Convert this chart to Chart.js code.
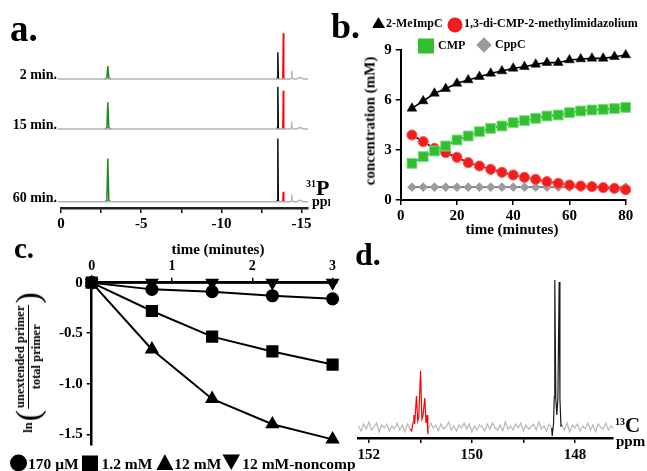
<!DOCTYPE html>
<html><head><meta charset="utf-8">
<script src="https://cdn.jsdelivr.net/npm/chart.js@4.4.1/dist/chart.umd.min.js"></script>
<style>
body{margin:0;background:#fff}
#page{position:relative;width:647px;height:471px;overflow:hidden;background:#fff;
  font-family:'Liberation Serif','Times New Roman',serif;font-weight:bold;color:#000}
canvas{position:absolute}
.t{position:absolute;white-space:nowrap;line-height:1}
.l{transform:translateY(-50%)}
.r{transform:translate(-100%,-50%)}
.c{transform:translate(-50%,-50%)}
.mk{position:absolute;transform:translate(-50%,-50%)}
.up{clip-path:polygon(50% 0,100% 100%,0 100%)}
.dn{clip-path:polygon(0 0,100% 0,50% 100%)}
.leg{display:flex;align-items:center}
.leg i{display:inline-block;background:#000;flex:none}
</style></head><body>
<div id="page">
  <div style="position:absolute;left:0;top:0;width:330px;height:235px;overflow:hidden">
    <canvas id="chartA" width="330" height="235" style="left:0;top:0"></canvas>
    <div class="t l" style="left:10px;top:28px;font-size:37px">a.</div>
    <div class="t r" style="left:57px;top:75px;font-size:14px">2 min.</div>
    <div class="t r" style="left:57px;top:125px;font-size:14px">15 min.</div>
    <div class="t r" style="left:57px;top:198px;font-size:14px">60 min.</div>
    <div class="t l" style="left:306px;top:188px;font-size:22px"><span style="font-size:10px;position:relative;top:-8px">31</span>P</div>
    <div class="t l" style="left:312px;top:202px;font-size:14px">ppm</div>
  </div>
  <canvas id="chartB" width="317" height="240" style="left:330px;top:0"></canvas>
  <canvas id="chartC" width="350" height="231" style="left:0;top:240px"></canvas>
  <canvas id="chartD" width="307" height="231" style="left:340px;top:240px"></canvas>

  <!-- panel b texts -->
  <div class="t l" style="left:331px;top:26px;font-size:36px">b.</div>
  <div class="mk up" style="left:378.5px;top:22.5px;width:13px;height:11px;background:#000"></div>
  <div class="t l" style="left:386px;top:23px;font-size:12px">2-MeImpC</div>
  <div class="mk" style="left:455px;top:24.5px;width:15px;height:15px;border-radius:50%;background:#f21d1d"></div>
  <div class="t l" style="left:464px;top:23px;font-size:12px">1,3-di-CMP-2-methylimidazolium</div>
  <div class="mk" style="left:426px;top:45.5px;width:16px;height:15px;background:#2fbf2f"></div>
  <div class="t l" style="left:438px;top:45px;font-size:12px">CMP</div>
  <div class="mk" style="left:483.5px;top:45px;width:11px;height:11px;background:#9b9b9b;transform:translate(-50%,-50%) rotate(45deg)"></div>
  <div class="t l" style="left:495px;top:44px;font-size:12px">CppC</div>
  <div class="t c" style="left:370px;top:121px;font-size:15px;transform:translate(-50%,-50%) rotate(-90deg)">concentration (mM)</div>
  <div class="t c" style="left:512px;top:229px;font-size:15px">time (minutes)</div>

  <!-- panel c texts -->
  <div class="t l" style="left:14px;top:248px;font-size:29px">c.</div>
  <div class="t c" style="left:218px;top:249px;font-size:15px">time (minutes)</div>
  <div class="t c" style="left:28px;top:362px;font-size:12.5px;transform:translate(-50%,-50%) rotate(-90deg);display:flex;align-items:center">
    <span>ln</span>
    <span style="font-size:34px;font-weight:normal;margin:0 1px">(</span>
    <span style="display:inline-flex;flex-direction:column;align-items:center">
      <span style="border-bottom:1.5px solid #000;padding:0 1px 1px">unextended primer</span>
      <span style="padding-top:1px">total primer</span>
    </span>
    <span style="font-size:34px;font-weight:normal;margin:0 1px">)</span>
  </div>
  <div class="t l leg" style="left:10px;top:463px;font-size:15.5px">
    <i style="width:17px;height:17px;border-radius:50%;margin-right:1px"></i><span>170 μM</span>
    <i style="width:16px;height:16px;margin:0 4px 0 3px"></i><span>1.2 mM</span>
    <i class="up" style="width:17px;height:16px;margin:-2px 1px 0 4px"></i><span>12 mM</span>
    <i class="dn" style="width:18px;height:16px;margin:-2px 2px 0 1px"></i><span>12 mM-noncomp</span>
  </div>

  <!-- panel d texts -->
  <div class="t l" style="left:355px;top:254px;font-size:32px">d.</div>
  <div class="t l" style="left:615px;top:425px;font-size:21px"><span style="font-size:10px;position:relative;top:-7px">13</span>C</div>
  <div class="t l" style="left:616px;top:441px;font-size:15px">ppm</div>
</div>
<script>
// ---- panel a: 31P spectra ----
const aTraces   = ['2 min.', '15 min.', '60 min.'];
const aOffsets  = [122.7, 72.7, 0];
const aGreenPpm = -2.92, aBlackPpm = -13.52, aRedPpm = -13.86, aGrayPpm = -14.38, aTinyPpm = -14.9;
const aGreenH   = [13, 26.7, 43.3];
const aBlackH   = [26.7, 42.3, 63.3];
const aRedH     = [45.7, 38.3, 10];
const aGrayH    = [8.3, 7.3, 7.3];

// ---- panel b: concentrations ----
const bTime   = [4, 8, 12, 16, 20, 24, 28, 32, 36, 40, 44, 48, 52, 56, 60, 64, 68, 72, 76, 80];
const bMeImpC = [5.5, 5.94, 6.4, 6.68, 7.0, 7.2, 7.4, 7.6, 7.74, 7.9, 8.0, 8.14, 8.24, 8.24, 8.4, 8.46, 8.5, 8.5, 8.6, 8.7];
const bDiCMP  = [3.9, 3.5, 3.1, 2.84, 2.56, 2.24, 2.04, 1.84, 1.66, 1.5, 1.36, 1.24, 1.1, 1.0, 0.9, 0.84, 0.8, 0.74, 0.7, 0.62];
const bCMP    = [2.2, 2.6, 2.94, 3.24, 3.6, 3.84, 4.1, 4.3, 4.44, 4.64, 4.76, 4.9, 5.04, 5.1, 5.24, 5.34, 5.4, 5.44, 5.48, 5.56];
const bCppC   = [0.77, 0.77, 0.77, 0.77, 0.77, 0.77, 0.77, 0.77, 0.77, 0.77, 0.77, 0.77, 0.77, 0.77, 0.77, 0.77, 0.77, 0.77, 0.77, 0.77];

// ---- panel c: primer extension ----
const cTime     = [0, 0.75, 1.5, 2.25, 3];
const c170uM    = [0, -0.066, -0.089, -0.129, -0.16];
const c1_2mM    = [0, -0.28, -0.534, -0.68, -0.81];
const c12mM     = [0, -0.66, -1.15, -1.40, -1.55];
const cNoncomp  = [0, 0, 0, 0, 0];

// ---- panel d: 13C spectrum ----
const dStart = 152.2, dStep = 0.05;
const dNoise = [
  1, -4, 3, -2, 5, -3, 0, 4, -5, 2,
  -1, 3, -4, 1, -2, 4, -3, 2, -5, 3,
  -2, null, null, null, null, null, null, -3, 4, -1,
  2, -4, 3, -2, 0, 5, -3, 1, -4, 2,
  -1, 4, -2, 3, -5, 1, -3, 2, 0, -4,
  3, -2, 4, -1, -3, 2, -4, 5, -2, 1,
  -3, 3, -1, 4, -4, 2, -2, 0, 3, -3,
  5, -2, 1, -4, 3, -1, null, null, null, 2,
  -3, 4, -5, 2, -1, 3, -4, 1, -2, 4,
  -3, 2, -5, 3, 0, -2, 4, -3, 1, -1
];
const dRedPeak = [[151.17, -4], [151.14, 5], [151.125, 12], [151.11, 3], [151.075, 31], [151.05, 6], [151.03, 10],
  [150.996, 56], [150.97, 8], [150.95, 11], [150.913, 29], [150.89, 4], [150.868, 12], [150.855, -7]];
const dBlackPeak = [[148.44, -9], [148.415, 3], [148.40, 30], [148.39, 147], [148.37, 28], [148.35, 12],
  [148.33, 28], [148.305, 145], [148.29, 28], [148.27, 1]];

const FONT = 'Liberation Serif';
const tickFont = { family: FONT, weight: 'bold', size: 15 };
const baseOpts = {
  responsive: false, animation: false, events: [],
  plugins: { legend: { display: false }, tooltip: { enabled: false } },
  elements: { line: { tension: 0 } }
};
function axis(extra) {
  return Object.assign({
    type: 'linear',
    grid: { drawOnChartArea: false, color: '#000', lineWidth: 1.5, tickLength: 5 },
    border: { color: '#000', width: 2 }
  }, extra);
}

// PANEL A
function spike(p, h, off, foot, half) {
  return [{ x: p + foot, y: off }, { x: p + half, y: off + 1 }, { x: p, y: off + h },
          { x: p - half, y: off + 1 }, { x: p - foot, y: off }];
}
const aSets = [];
aTraces.forEach((name, i) => {
  const off = aOffsets[i];
  aSets.push({ data: [{ x: 0.2, y: off }, ...spike(aGrayPpm, aGrayH[i], off, 0.09, 0.03),
                      ...spike(aTinyPpm, 1.5, off, 0.2, 0.08), { x: -15.4, y: off }],
               borderColor: '#b4b4b4', borderWidth: 1.4 });
  aSets.push({ data: spike(aGreenPpm, aGreenH[i], off, 0.2, 0.06), borderColor: '#1f8a1f', borderWidth: 1.5 });
  aSets.push({ data: spike(aBlackPpm, aBlackH[i], off, 0.1, 0.03), borderColor: '#000', borderWidth: 1.4 });
  aSets.push({ data: spike(aRedPpm, aRedH[i], off, 0.1, 0.03), borderColor: '#ff0000', borderWidth: 1.4 });
});
aSets.forEach(d => { d.pointRadius = 0; d.clip = false; d.fill = false; });

new Chart(document.getElementById('chartA'), {
  type: 'line',
  data: { datasets: aSets },
  options: Object.assign({}, baseOpts, {
    layout: { padding: { left: 61, right: 22, top: 28, bottom: 0 } },
    scales: {
      x: axis({ min: -15.4, max: 0, reverse: true,
        border: { color: '#222', width: 2.5 },
        ticks: { stepSize: 2.5, includeBounds: false, font: tickFont, color: '#000', padding: 2, maxRotation: 0, autoSkip: false,
                 callback: v => (v % 5 === 0 ? String(v) : '') },
        afterFit: s => { s.height = 27; } }),
      y: { type: 'linear', display: false, min: -6.3, max: 173.7 }
    }
  })
});

// PANEL B
const bPts = arr => arr.map((v, i) => ({ x: bTime[i], y: v }));
new Chart(document.getElementById('chartB'), {
  type: 'line',
  data: {
    datasets: [
      { data: bPts(bMeImpC), borderColor: '#000', pointStyle: 'triangle', pointRadius: 5.6,
        pointBackgroundColor: '#000', pointBorderColor: '#000', pointBorderWidth: 0.5 },
      { data: bPts(bCMP), borderColor: '#000', pointStyle: 'rect', pointRadius: 7,
        pointBackgroundColor: '#2fbf2f', pointBorderColor: '#7fdc7f', pointBorderWidth: 1 },
      { data: bPts(bDiCMP), borderColor: '#000', pointStyle: 'circle', pointRadius: 5.1,
        pointBackgroundColor: '#f21d1d', pointBorderColor: '#ff5a5a', pointBorderWidth: 1 },
      { data: bPts(bCppC), borderColor: '#6e6e6e', pointStyle: 'rectRot', pointRadius: 4.3,
        pointBackgroundColor: '#9b9b9b', pointBorderColor: '#9b9b9b', pointBorderWidth: 1 }
    ].map(d => Object.assign(d, { borderWidth: 1.6, clip: false, fill: false }))
  },
  options: Object.assign({}, baseOpts, {
    layout: { padding: { left: 0, right: 21.3, top: 50, bottom: 0 } },
    scales: {
      x: axis({ min: 0, max: 80,
        ticks: { stepSize: 20, font: tickFont, color: '#000', padding: 2, maxRotation: 0, autoSkip: false },
        afterFit: s => { s.height = 40; } }),
      y: axis({ min: 0, max: 9,
        ticks: { stepSize: 3, font: tickFont, color: '#000', padding: 4, autoSkip: false },
        afterFit: s => { s.width = 70.7; } })
    }
  })
});

// PANEL C
const cPts = arr => arr.map((v, i) => ({ x: cTime[i], y: v }));
new Chart(document.getElementById('chartC'), {
  type: 'line',
  data: {
    datasets: [
      { data: cPts(cNoncomp), pointStyle: 'triangle', rotation: 180, pointRadius: 6 },
      { data: cPts(c170uM), pointStyle: 'circle', pointRadius: 5.6 },
      { data: cPts(c1_2mM), pointStyle: 'rect', pointRadius: 7.2 },
      { data: cPts(c12mM), pointStyle: 'triangle', pointRadius: 6.3 }
    ].map(d => Object.assign(d, { borderColor: '#000', borderWidth: 2, pointBackgroundColor: '#000',
                                  pointBorderColor: '#000', clip: false, fill: false }))
  },
  options: Object.assign({}, baseOpts, {
    layout: { padding: { left: 0, right: 13.4, top: 0, bottom: 26.6 } },
    scales: {
      x: axis({ position: 'top', min: 0, max: 3.05,
        border: { color: '#000', width: 2.5 },
        ticks: { stepSize: 1, includeBounds: false, font: { family: FONT, weight: 'bold', size: 14 }, color: '#000',
                 padding: 3, maxRotation: 0, autoSkip: false },
        afterFit: s => { s.height = 42.7; } }),
      y: axis({ min: -1.6, max: 0,
        border: { color: '#000', width: 2.5 },
        ticks: { stepSize: 0.5, includeBounds: false, font: tickFont, color: '#000', padding: 4, autoSkip: false,
                 callback: v => (v === 0 ? '0' : v.toFixed(1)) },
        afterFit: s => { s.width = 91.7; } })
    }
  })
});

// PANEL D
const dPpm = i => +(dStart - dStep * i).toFixed(3);
const dGray = dNoise.map((v, i) => ({ x: dPpm(i), y: v }));
const dRed = [dGray[20], ...dRedPeak.map(p => ({ x: p[0], y: p[1] })), dGray[27]];
const dBlack = [dGray[75], ...dBlackPeak.map(p => ({ x: p[0], y: p[1] })), dGray[79]];
new Chart(document.getElementById('chartD'), {
  type: 'line',
  data: {
    datasets: [
      { data: dBlack, borderColor: '#1a1a1a' },
      { data: dRed, borderColor: '#ff0000' },
      { data: dGray, borderColor: '#b8b8b8', spanGaps: false }
    ].map(d => Object.assign(d, { borderWidth: 1.2, pointRadius: 0, fill: false, clip: false }))
  },
  options: Object.assign({}, baseOpts, {
    layout: { padding: { left: 18, right: 34, top: 35, bottom: 0 } },
    scales: {
      x: axis({ min: 147.26, max: 152.21, reverse: true,
        border: { color: '#000', width: 2.5 },
        ticks: { stepSize: 1, includeBounds: false, font: tickFont, color: '#000', padding: 3, maxRotation: 0, autoSkip: false,
                 callback: v => (v % 2 === 0 ? String(v) : '') },
        afterFit: s => { s.height = 33; } }),
      y: { type: 'linear', display: false, min: -11, max: 152 }
    }
  })
});
</script>
</body></html>
